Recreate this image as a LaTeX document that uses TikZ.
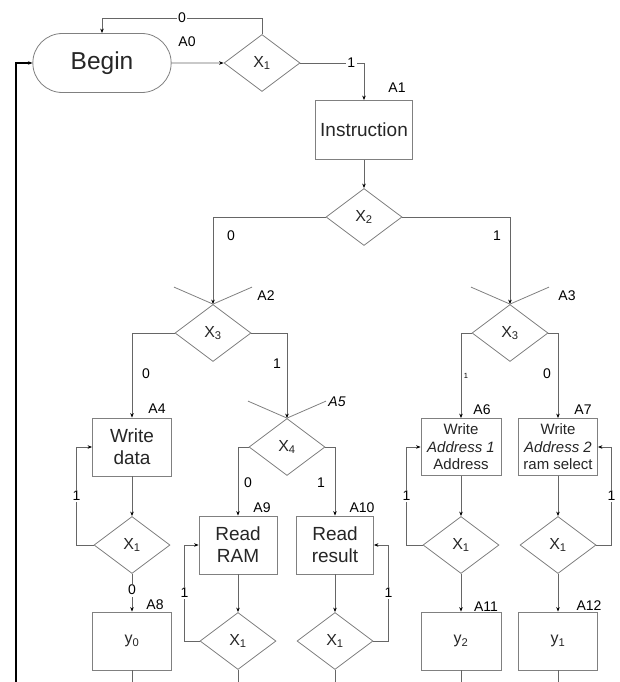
\documentclass[tikz,border=0pt]{standalone}
\usepackage{fontspec}
\setmainfont{Liberation Sans}
\usetikzlibrary{shapes.geometric,shapes.misc,arrows.meta,positioning,calc}

\begin{document}
\begin{tikzpicture}[x=1pt, y=-1pt, >={Stealth[length=4.5pt,width=3.5pt,black]}]
        \tikzset{
            block/.style={draw=black!50, fill=white, rectangle, minimum height=58pt, minimum width=79pt, align=center, line width=0.8pt, text=black!85, font=\fontsize{19}{22}\selectfont, inner sep=1pt},
            smallblock/.style={block, minimum height=57pt, font=\fontsize{15}{17.5}\selectfont},
            outblock/.style={block, font=\fontsize{16}{19}\selectfont},
            test/.style={draw=black!50, fill=white, diamond, minimum width=76pt, minimum height=57pt, inner sep=0pt, line width=0.8pt, text=black!85, font=\fontsize{16}{19}\selectfont},
            start/.style={draw=black!50, fill=white, rounded rectangle, minimum width=145pt, minimum height=59pt, line width=0.8pt, text=black!85, font=\fontsize{24.5}{28}\selectfont},
            link/.style={draw=black!60, line width=0.8pt},
            backlink/.style={draw=black, line width=1.6pt},
            state/.style={font=\fontsize{14}{16}\selectfont, inner sep=0pt},
            bit/.style={font=\fontsize{14}{16}\selectfont, fill=white, inner sep=1.5pt},
            joinmark/.style={draw=black!50, line width=0.8pt}
        }
        \useasboundingbox (0,0) rectangle (619,682);

        % Nodes
        \node [start] (begin) at (102,63) {Begin};
        \node [test] (x1top) at (262,63) {X\textsubscript{1}};
        \node [block, minimum width=97pt, minimum height=59pt] (instr) at (364,130) {Instruction};
        \node [test] (x2) at (364,217) {X\textsubscript{2}};
        \node [test] (x3a) at (213,333) {X\textsubscript{3}};
        \node [test] (x3b) at (510,333) {X\textsubscript{3}};
        \node [test] (x4) at (287,447) {X\textsubscript{4}};

        \node [block] (wdata) at (132,447) {Write\\data};
        \node [test] (x1a) at (132,545) {X\textsubscript{1}};
        \node [outblock] (y0) at (132,641) {y\textsubscript{0}};

        \node [block, minimum width=78pt] (rram) at (238,545) {Read\\RAM};
        \node [test] (x1b) at (238,641) {X\textsubscript{1}};
        \node [block, minimum width=77pt] (rres) at (335,545) {Read\\result};
        \node [test] (x1c) at (335,641) {X\textsubscript{1}};

        \node [smallblock, minimum width=80pt] (waddr1) at (461,447) {Write\\\textit{Address 1}\\Address};
        \node [test] (x1d) at (461,545) {X\textsubscript{1}};
        \node [outblock, minimum width=80pt] (y2) at (461,641) {y\textsubscript{2}};
        \node [smallblock] (waddr2) at (558,447) {Write\\\textit{Address 2}\\ram select};
        \node [test] (x1e) at (558,545) {X\textsubscript{1}};
        \node [outblock] (y1) at (558,641) {y\textsubscript{1}};

        % State labels
        \node [state] (lA0) at (187,42) {A0};
        \node [state] (lA1) at (397,88) {A1};
        \node [state] (lA2) at (266,296) {A2};
        \node [state] (lA3) at (567,296) {A3};
        \node [state] (lA4) at (157,409) {A4};
        \node [state] (lA5) at (337,402) {\textit{A5}};
        \node [state] (lA6) at (482,410) {A6};
        \node [state] (lA7) at (583,410) {A7};
        \node [state] (lA8) at (155,605) {A8};
        \node [state] (lA9) at (262,508) {A9};
        \node [state] (lA10) at (362,508) {A10};
        \node [state] (lA11) at (486,607) {A11};
        \node [state] (lA12) at (589,606) {A12};

        % Connections
        \draw [link, ->] (begin) -- (x1top);
        \draw [link, ->] (x1top.north) -- ++(0,-16) -| node [bit, pos=0.25] {0} (begin.north);
        \draw [link, ->] (x1top.east) -| node [bit, pos=0.4] {1} (instr.north);
        \draw [link, ->] (instr) -- (x2);
        \draw [link, ->] (x2.west) -| node [state, pos=0.61, xshift=18pt] {0} (x3a.north);
        \draw [link, ->] (x2.east) -| node [state, pos=0.61, xshift=-13pt] {1} (x3b.north);
        \draw [link, ->] (x3a.west) -| node [state, pos=0.74, xshift=14pt] {0} (wdata.north);
        \draw [link, ->] (x3a.east) -| node [state, pos=0.68, xshift=-10pt] {1} (x4.north);
        \draw [link, ->] (x3b.west) -| node [state, pos=0.75, xshift=5pt, font=\fontsize{7.5}{8}\selectfont] {1} (waddr1.north);
        \draw [link, ->] (x3b.east) -| node [state, pos=0.74, xshift=-11pt] {0} (waddr2.north);
        \draw [link, ->] (x4.west) -| node [state, pos=0.76, xshift=10pt] {0} (rram.north);
        \draw [link, ->] (x4.east) -| node [state, pos=0.76, xshift=-14pt] {1} (rres.north);

        \draw [link, ->] (wdata) -- (x1a);
        \draw [link, ->] (x1a) -- node [bit, pos=0.43] {0} (y0);
        \draw [link, ->] (rram) -- (x1b);
        \draw [link, ->] (rres) -- (x1c);
        \draw [link, ->] (waddr1) -- (x1d);
        \draw [link, ->] (x1d) -- (y2);
        \draw [link, ->] (waddr2) -- (x1e);
        \draw [link, ->] (x1e) -- (y1);

        % Join marks
        \foreach \t in {x3a, x3b, x4}
            \draw [joinmark] ($(\t.north)+(-39,-17)$) -- (\t.north) -- ($(\t.north)+(39,-17)$);

        % Feedback
        \draw [link, ->] (x1a.west) -- ++(-17,0) |- node [bit, pos=0.25] {1} (wdata.west);
        \draw [link, ->] (x1b.west) -- ++(-15,0) |- node [bit, pos=0.25] {1} (rram.west);
        \draw [link, ->] (x1c.east) -- ++(15,0) |- node [bit, pos=0.25] {1} (rres.east);
        \draw [link, ->] (x1d.west) -- ++(-16,0) |- node [bit, pos=0.25] {1} (waddr1.west);
        \draw [link, ->] (x1e.east) -- ++(15,0) |- node [bit, pos=0.25] {1} (waddr2.east);

        % Exits to the next part
        \coordinate (bottom) at (0,682);
        \foreach \t in {y0, x1b, x1c, y2, y1}
            \draw [link] (\t.south) -- (\t.south |- bottom);
        \coordinate (ret) at (16,682);
        \draw [backlink, ->] (ret) |- (begin.west);
\end{tikzpicture}
\end{document}
